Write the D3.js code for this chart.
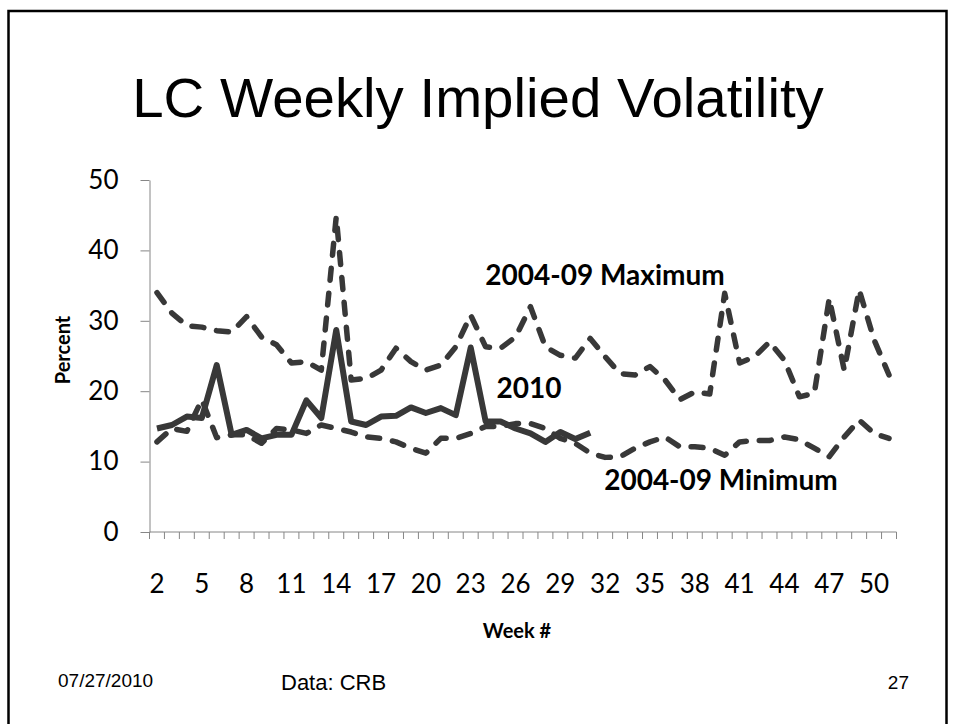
<!DOCTYPE html>
<html>
<head>
<meta charset="utf-8">
<script src="https://cdn.jsdelivr.net/npm/d3@7"></script>
<style>
  body { margin: 0; background: #fff; }
  svg { display: block; }
  .axis path, .axis line { stroke: #868686; }
</style>
</head>
<body>
<div id="chart"></div>
<script>
// weeks shown on the category axis
const weeks = [2, 3, 4, 5, 6, 7, 8, 9, 10, 11, 12, 13, 14, 15, 16, 17, 18, 19, 20, 21, 22, 23, 24, 25, 26,
  27, 28, 29, 30, 31, 32, 33, 34, 35, 36, 37, 38, 39, 40, 41, 42, 43, 44, 45, 46, 47, 48, 49, 50, 51];
const week_labels = [2, 5, 8, 11, 14, 17, 20, 23, 26, 29, 32, 35, 38, 41, 44, 47, 50];
const y_ticks = [0, 10, 20, 30, 40, 50];

// 2004-09 maximum, weeks 2..51
const max_values = [34.0, 31.1, 29.3, 29.1, 28.6, 28.4, 30.6, 27.7, 26.6, 24.0, 24.2, 23.0, 44.8, 21.6, 21.8,
  23.0, 26.1, 24.2, 23.0, 23.7, 26.3, 30.8, 26.3, 26.1, 27.7, 32.0, 26.3, 25.1, 24.7, 27.5, 24.9, 22.5,
  22.3, 23.5, 21.6, 18.8, 19.9, 19.6, 33.9, 24.0, 24.9, 27.0, 24.4, 19.2, 19.7, 33.2, 23.0, 34.4, 27.3, 22.3];
// 2004-09 minimum, weeks 2..51
const min_values = [12.8, 14.7, 14.3, 18.8, 13.4, 13.8, 13.8, 12.6, 14.7, 14.5, 14.0, 15.2, 14.7, 14.2, 13.5,
  13.3, 12.8, 11.9, 11.2, 13.3, 13.3, 14.0, 15.0, 15.0, 15.4, 15.4, 14.7, 13.3, 12.6, 11.2, 10.6, 10.7,
  11.9, 12.8, 13.5, 12.1, 12.1, 11.9, 10.9, 12.8, 13.0, 13.0, 13.5, 13.1, 11.9, 10.7, 13.5, 15.9, 14.0, 13.3];
// 2010, weeks 2..31
const y2010_values = [14.7, 15.2, 16.4, 16.2, 23.7, 13.8, 14.5, 13.3, 13.8, 13.8, 18.7, 16.2, 28.7, 15.7, 15.2,
  16.4, 16.5, 17.7, 16.9, 17.6, 16.6, 26.2, 15.7, 15.7, 14.7, 14.0, 12.8, 14.2, 13.2, 14.1];

const width = 954, height = 724;
const line_color = '#383838';

const svg = d3.select('#chart')
  .append('svg')
    .attr('width', width)
    .attr('height', height);

svg.append('rect')
  .attr('width', width).attr('height', height)
  .attr('fill', '#fff');

// slide frame
svg.append('rect')
  .attr('x', 8.5).attr('y', 11)
  .attr('width', 938).attr('height', 800)
  .attr('fill', 'none')
  .attr('stroke', '#000')
  .attr('stroke-width', 2.5);

svg.append('text')
  .attr('x', 478).attr('y', 117)
  .attr('text-anchor', 'middle')
  .style('font-family', '"Liberation Sans", Arial, sans-serif')
  .style('font-size', '56.4px')
  .text('LC Weekly Implied Volatility');

const x = d3.scaleBand()
  .domain(weeks)
  .range([149.5, 896.5]);
const y = d3.scaleLinear()
  .domain([0, 50])
  .range([532, 180]);

// y axis
svg.append('g')
  .attr('class', 'axis')
  .attr('transform', 'translate(149.5,0)')
  .call(d3.axisLeft(y).tickValues(y_ticks).tickSize(9).tickSizeOuter(0).tickPadding(22))
  .call(g => g.selectAll('text')
    .style('font-family', 'Lato, sans-serif')
    .style('font-size', '26px')
    .attr('fill', '#000'));

// x axis: tick marks sit between categories
const xg = svg.append('g')
  .attr('class', 'axis')
  .attr('transform', 'translate(0,532)');
xg.append('line')
  .attr('x1', x.range()[0]).attr('x2', x.range()[1])
  .attr('stroke', '#868686');
xg.selectAll('.tick-mark')
    .data(weeks.map(w => x(w)).concat([x.range()[1]]))
  .join('line')
    .attr('class', 'tick-mark')
    .attr('x1', d => d).attr('x2', d => d)
    .attr('y1', 0).attr('y2', 7)
    .attr('stroke', '#868686');
xg.selectAll('.week-label')
    .data(week_labels)
  .join('text')
    .attr('class', 'week-label')
    .attr('x', d => x(d) + x.bandwidth() / 2)
    .attr('y', 61)
    .attr('text-anchor', 'middle')
    .style('font-family', 'Lato, sans-serif')
    .style('font-size', '26px')
    .text(d => d);

// axis titles
svg.append('text')
  .attr('transform', 'translate(70,350) rotate(-90)')
  .attr('text-anchor', 'middle')
  .style('font-family', 'Lato, sans-serif')
  .style('font-weight', 'bold')
  .style('font-size', '20px')
  .text('Percent');
svg.append('text')
  .attr('x', 517).attr('y', 638)
  .attr('text-anchor', 'middle')
  .style('font-family', 'Lato, sans-serif')
  .style('font-weight', 'bold')
  .style('font-size', '20px')
  .text('Week #');

// lines
const line = d3.line()
  .x(d => x(d.week) + x.bandwidth() / 2)
  .y(d => y(d.value));
const to_points = values => values.map((v, i) => ({ week: weeks[i], value: v }));

const series = [
  { name: 'max', values: max_values, dash: '12,13', width: 5.5 },
  { name: 'min', values: min_values, dash: '12,13', width: 5.5 },
  { name: '2010', values: y2010_values, dash: null, width: 6 }
];

svg.selectAll('.series')
    .data(series)
  .join('path')
    .attr('class', 'series')
    .attr('d', d => line(to_points(d.values)))
    .attr('fill', 'none')
    .attr('stroke', line_color)
    .attr('stroke-width', d => d.width)
    .attr('stroke-dasharray', d => d.dash)
    .attr('stroke-linecap', d => d.dash ? 'round' : 'butt')
    .attr('stroke-linejoin', 'round');

// series labels
const labels = [
  { text: '2004-09 Maximum', x: 605, y: 285 },
  { text: '2010', x: 529, y: 398 },
  { text: '2004-09 Minimum', x: 721, y: 490 }
];
svg.selectAll('.series-label')
    .data(labels)
  .join('text')
    .attr('class', 'series-label')
    .attr('x', d => d.x).attr('y', d => d.y)
    .attr('text-anchor', 'middle')
    .style('font-family', 'Lato, sans-serif')
    .style('font-weight', 'bold')
    .style('font-size', '28px')
    .text(d => d.text);

// footer
const footer = svg.append('g')
  .style('font-family', '"Liberation Sans", Arial, sans-serif');
footer.append('text')
  .attr('x', 58).attr('y', 687)
  .style('font-size', '19px')
  .text('07/27/2010');
footer.append('text')
  .attr('x', 281).attr('y', 690)
  .style('font-size', '22px')
  .text('Data: CRB');
footer.append('text')
  .attr('x', 909).attr('y', 689)
  .attr('text-anchor', 'end')
  .style('font-size', '19px')
  .text('27');
</script>
</body>
</html>
